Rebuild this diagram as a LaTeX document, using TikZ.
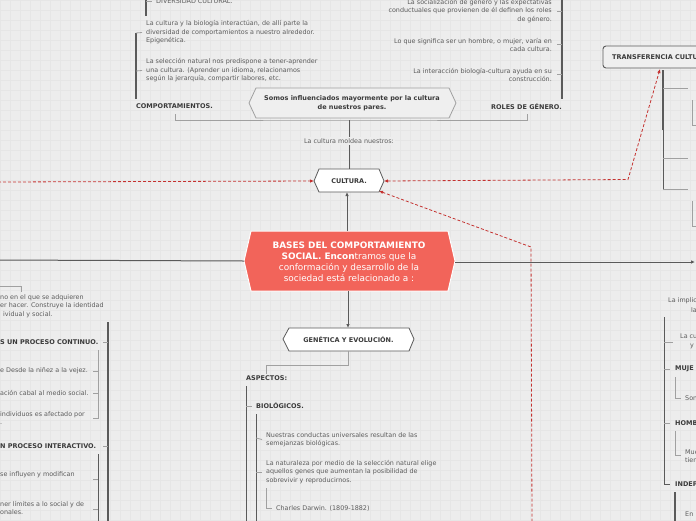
\documentclass[tikz,border=0pt]{standalone}
\usepackage{fontspec}
\setmainfont{DejaVu Sans}
\usetikzlibrary{arrows.meta}
\definecolor{bg}{HTML}{EDEDED}
\definecolor{gridc}{HTML}{E6E6E6}
\definecolor{txt}{HTML}{5C5C5C}
\definecolor{boldc}{HTML}{3A3A3A}
\definecolor{lin}{HTML}{5A5A5A}
\definecolor{lin2}{HTML}{A0A0A0}
\definecolor{redfill}{HTML}{F2645A}
\definecolor{reddash}{HTML}{C4312F}
\definecolor{hexfill}{HTML}{EFEFEF}
\tikzset{
  t/.style={font=\fontsize{6.4}{8.5}\selectfont, text=txt, inner sep=0pt, align=left, anchor=west},
  tr/.style={t, align=right, anchor=east},
  b/.style={font=\fontsize{6.5}{8.6}\selectfont\bfseries, text=boldc, inner sep=0pt, anchor=west},
  ln/.style={draw=lin, line width=1pt},
  lnb/.style={draw=lin, line width=1.6pt},
  ln2/.style={draw=lin2, line width=0.8pt},
  rd/.style={draw=reddash, line width=0.8pt, dash pattern=on 3pt off 2pt},
  tip/.style={-{Latex[length=4pt,width=3.5pt]}},
  hexw/.style={fill=white, draw=lin, line width=0.8pt},
}
\begin{document}
\begin{tikzpicture}[x=1pt,y=-1pt]
\useasboundingbox (0,0) rectangle (696,520);
\clip (0,0) rectangle (696,520);
\fill[bg] (0,0) rectangle (696,520);
\foreach \i in {0,10,...,690} {\draw[gridc, line width=0.5pt] (\i,0) -- (\i,520);}
\foreach \j in {0,10,...,520} {\draw[gridc, line width=0.5pt] (0,\j) -- (696,\j);}

% ---------------- top left: COMPORTAMIENTOS
\draw[lnb] (146,-2) -- (146,16);
\node[t] (div) at (156,1) {DIVERSIDAD CULTURAL.};
\draw[ln2] (146,1) -- (152,1);
\node[t] (cb) at (146,32.5) {La cultura y la biología interactúan, de allí parte la\\diversidad de comportamientos a nuestro alrededor.\\Epigenética.};
\node[t] (sn) at (146,70.5) {La selección natural nos predispone a tener-aprender\\una cultura. (Aprender un idioma, relacionamos\\según la jerarquía, compartir labores, etc.};
\node[b] (comp) at (136,106.5) {COMPORTAMIENTOS.};
\draw[draw=lin, line width=1.2pt] (136,99) -- (136,33);
\draw[ln2] (136,33) -- ([xshift=-4pt]cb.west);
\draw[ln2] (136,71) -- ([xshift=-4pt]sn.west);

% ---------------- top right: ROLES DE GENERO
\node[tr] (rs) at (552,11) {La socialización de género y las expectativas\\conductuales que provienen de él definen los roles\\de género.};
\node[tr] (rh) at (552,45) {Lo que significa ser un hombre, o mujer, varía en\\cada cultura.};
\node[tr] (ri) at (552,75) {La interacción biología-cultura ayuda en su\\construcción.};
\node[b, anchor=east] (roles) at (562,106.5) {ROLES DE GÉNERO.};
\draw[draw=lin, line width=1.4pt] (562,-2) -- (562,99);
\draw[ln2] (562,11) -- (557,11);
\draw[ln2] (562,44) -- (557,44);
\draw[ln2] (562,74) -- (557,74);

% ---------------- Somos influenciados
\coordinate (junc) at (349,120);
\draw[ln2] (175,114) |- (junc) -| (527,114);
\draw[fill=hexfill, draw=lin2, line width=0.8pt] (249,103) -- (256,88) -- (449,88) -- (456,103) -- (449,118) -- (256,118) -- cycle;
\node[b, anchor=center, align=center] (somos) at (352,103.5) {Somos influenciados mayormente por la cultura\\de nuestros pares.};

% ---------------- CULTURA
\draw[hexw] (314,181) -- (319,169) -- (379,169) -- (384,181) -- (379,192) -- (319,192) -- cycle;
\node[b, anchor=center] (cult) at (349,181) {CULTURA.};
\coordinate (cultT) at (349,169);
\coordinate (cultL) at (314,181);
\coordinate (cultR) at (384,181);
\coordinate (cultB) at (347,192);
\coordinate (cultBR) at (379,191);
\draw[draw=lin, line width=0.9pt] (junc) -- (cultT);
\node[t, anchor=center, fill=bg, inner ysep=2pt, inner xsep=1pt] (moldea) at (349,141) {La cultura moldea nuestros:};

% ---------------- central node
\draw[fill=redfill, draw=white, line width=1pt] (244,261) -- (251,231) -- (448,231) -- (455,261) -- (448,291) -- (251,291) -- cycle;
\node[font=\fontsize{8.9}{11}\selectfont, text=white, align=center, inner sep=0pt] (bases) at (349,261.5)
 {\textbf{BASES DEL COMPORTAMIENTO}\\\textbf{SOCIAL. Encon}tramos que la\\conformación y desarrollo de la\\sociedad está relacionado a :};
\coordinate (basT) at (347,231);
\coordinate (basB) at (348,291);
\coordinate (basL) at (244,261);
\coordinate (basR) at (455,262);
\coordinate (leftEnd) at (-2,260);
\coordinate (rightEnd) at (695,262);
\draw[draw=lin, line width=1pt, tip] (basT) -- (cultB);
\draw[draw=lin, line width=1pt] (basL) -- (leftEnd);
\draw[draw=lin, line width=1pt, tip] (basR) -- (rightEnd);

% ---------------- GENETICA
\draw[hexw] (283,339) -- (289,328) -- (409,328) -- (414,339) -- (409,351) -- (289,351) -- cycle;
\node[b, anchor=center] (gen) at (348.5,339.5) {GENÉTICA Y EVOLUCIÓN.};
\coordinate (genT) at (348,328);
\coordinate (genB) at (348.5,351);
\draw[draw=lin, line width=1pt, tip] (basB) -- (genT);
\node[b] (asp) at (246,378) {ASPECTOS:};
\draw[ln2] (genB) -- (348.5,365) -| ([yshift=1.5pt]asp.north);
\draw[ln] (246,386) -- (246,522);
\draw[ln2] (246,406) -- (252,406);
\node[b] (bio) at (256,406) {BIOLÓGICOS.};
\draw[ln] (256,414) -- (256,522);
\node[t] (nc) at (266,439.5) {Nuestras conductas universales resultan de las\\semejanzas biológicas.};
\node[t] (nat) at (266,472) {La naturaleza por medio de la selección natural elige\\aquellos genes que aumentan la posibilidad de\\sobrevivir y reproducirnos.};
\draw[ln2] (256,438) -- ([xshift=-4pt]nc.west);
\draw[ln2] (256,472) -- ([xshift=-4pt]nat.west);
\node[t] (darwin) at (276,508) {Charles Darwin. (1809-1882)};
\draw[ln2] (266,488) -- (266,508) -- ([xshift=-4pt]darwin.west);

% ---------------- left bottom
\draw[ln2] (-2,286) -- (21,286) -- (21,292);
\node[t] (apr) at (0,306) {no en el que se adquieren\\er hacer. Construye la identidad\\\hspace*{3pt}ividual y social.};
\draw[draw=lin, line width=1.1pt] (108,322) -- (108,522);
\node[b] (cont) at (0,342) {S UN PROCESO CONTINUO.};
\draw[ln2] (103,342) -- (108,342);
\draw[ln2] (98,350) -- (98,418) -- (93,418);
\draw[ln2] (93,371) -- (98,371);
\draw[ln2] (93,393) -- (98,393);
\node[t] (nin) at (0,371) {e Desde la niñez a la vejez.};
\node[t] (cab) at (0,393) {ación cabal al medio social.};
\node[t] (ind) at (0,418) {individuos es afectado por\\.};
\node[b] (inter) at (0,446) {N PROCESO INTERACTIVO.};
\draw[ln2] (103,446) -- (108,446);
\draw[draw=lin, line width=1pt] (98,454) -- (98,522);
\draw[ln2] (93,479) -- (98,479);
\draw[ln2] (93,509) -- (98,509);
\node[t] (infl) at (0,475) {se influyen y modifican};
\node[t] (lim) at (0,508) {ner límites a lo social y de\\onales.};

% ---------------- TRANSFERENCIA CULTURAL
\draw[fill=hexfill, draw=lin, line width=0.9pt, rounded corners=3pt] (603,46) rectangle (720,68);
\node[b] (trans) at (612,57) {TRANSFERENCIA CULTURAL.};
\coordinate (transB) at (660,69);
\draw[draw=lin, line width=2pt] (663,70) -- (663,130);
\draw[ln] (663,128) -- (663,189);
\draw[ln2] (663,88) -- (688,88);
\draw[ln2] (663,158) -- (688,158);
\draw[ln2] (663,189) -- (688,189);
\draw[ln2] (692,100) -- (692,125) -- (698,125);
\draw[ln2] (692,201) -- (692,226) -- (698,226);

% ---------------- right bottom
\node[t] (impl) at (668,301) {La implic};
\node[t] (impl2) at (691,310) {la};
\draw[ln] (664,317) -- (664,484) -- (670,484);
\draw[ln2] (664,342) -- (673,342);
\node[t] (lacu) at (680,341.5) {La cu\\\hspace*{10pt}y};
\draw[ln2] (664,369) -- (670,369);
\node[b] (muj) at (675,369) {MUJE};
\draw[ln2] (675,377) -- (675,398) -- (681,398);
\node[t] (son) at (685,398) {Son};
\draw[ln2] (664,423) -- (670,423);
\node[b] (hom) at (675,423) {HOMB};
\draw[ln2] (675,431) -- (675,455) -- (681,455);
\node[t] (mue) at (685,456) {Mue\\tien};
\node[b] (indep) at (675,484) {INDEP};
\draw[draw=lin, line width=1.4pt] (675,492) -- (675,522);
\node[t] (en) at (685,514) {En};

% ---------------- red dashed relations
\coordinate (leftRel) at (-2,182);
\coordinate (relC1) at (628,179.5);
\coordinate (relC2) at (531,247);
\coordinate (relEnd) at (532,522);
\draw[rd, tip] (leftRel) -- (cultL);
\draw[rd, {Latex[length=4pt,width=3.5pt]}-{Latex[length=4pt,width=3.5pt]}] (cultR) -- (relC1) -- (transB);
\draw[rd, {Latex[length=4pt,width=3.5pt]}-] (cultBR) -- (relC2) -- (relEnd);
\end{tikzpicture}
\end{document}
